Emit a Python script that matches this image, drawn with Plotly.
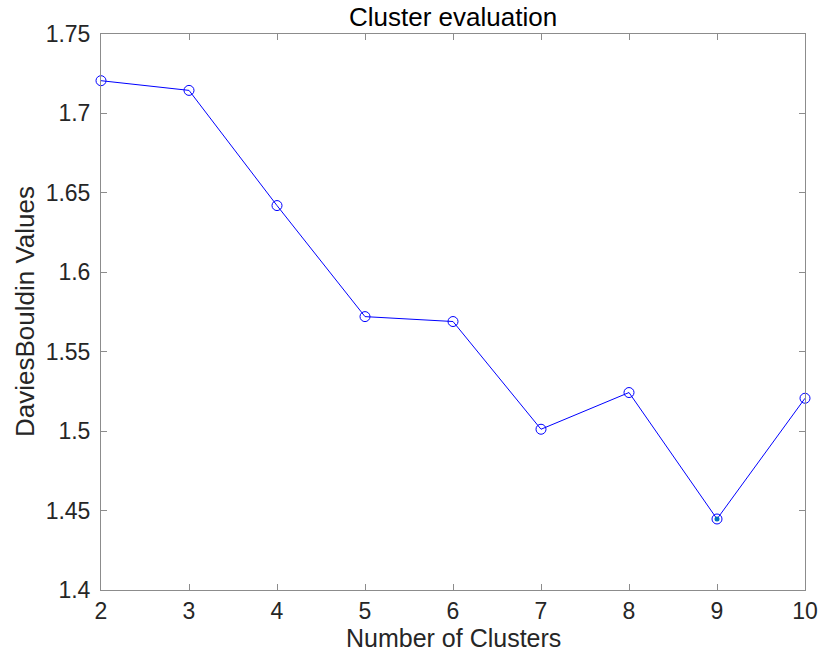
import plotly.graph_objects as go

# Davies-Bouldin index for each candidate number of clusters
num_clusters = [2, 3, 4, 5, 6, 7, 8, 9, 10]
db_values = [1.7206, 1.7145, 1.6420, 1.5721, 1.5690, 1.5012, 1.5243, 1.4447, 1.5207]
optimal_k = [9]
optimal_value = [1.4447]

x_ticks = [2, 3, 4, 5, 6, 7, 8, 9, 10]
y_ticks = [1.4, 1.45, 1.5, 1.55, 1.6, 1.65, 1.7, 1.75]
y_tick_text = ["1.4", "1.45", "1.5", "1.55", "1.6", "1.65", "1.7", "1.75"]

font_family = "Liberation Sans, Arial, Helvetica, sans-serif"
text_color = "#262626"
axis_color = "#8c8c8c"

fig = go.Figure()
fig.add_trace(go.Scatter(
    x=num_clusters, y=db_values,
    mode="lines+markers",
    line=dict(color="#0000ff", width=1),
    marker=dict(symbol="circle-open", size=10, color="#0000ff", line=dict(width=1)),
    cliponaxis=False,
    showlegend=False,
))
fig.add_trace(go.Scatter(
    x=optimal_k, y=optimal_value,
    mode="markers",
    marker=dict(symbol="circle", size=5, color="#0072bd"),
    cliponaxis=False,
    showlegend=False,
))

axis_common = dict(
    showgrid=False, zeroline=False, automargin=False,
    showline=True, linecolor=axis_color, linewidth=1,
    mirror="allticks", ticks="inside", ticklen=6, tickcolor=axis_color, tickwidth=1,
    tickfont=dict(family=font_family, size=23, color=text_color),
)

fig.update_layout(
    width=820, height=651,
    margin=dict(l=101, r=15, t=34, b=61),
    paper_bgcolor="white", plot_bgcolor="white",
    title=dict(text="Cluster evaluation", x=0.5525, xanchor="center", y=0.974, yanchor="middle",
               font=dict(family=font_family, size=26, color="black")),
    xaxis=dict(range=[2, 10], tickvals=x_ticks, ticklabelstandoff=0,
               **axis_common),
    yaxis=dict(range=[1.4, 1.75], tickvals=y_ticks, ticktext=y_tick_text,
               ticklabelstandoff=5,
               **axis_common),
    annotations=[
        dict(text="Number of Clusters", xref="paper", yref="paper", x=0.5, y=0.0, yshift=-48,
             xanchor="center", yanchor="middle", showarrow=False,
             font=dict(family=font_family, size=25, color=text_color)),
        dict(text="DaviesBouldin Values", xref="paper", yref="paper", x=0.0, y=0.5, xshift=-76,
             xanchor="center", yanchor="middle", textangle=-90, showarrow=False,
             font=dict(family=font_family, size=26, color=text_color)),
    ],
)

fig.write_html("out.html")
